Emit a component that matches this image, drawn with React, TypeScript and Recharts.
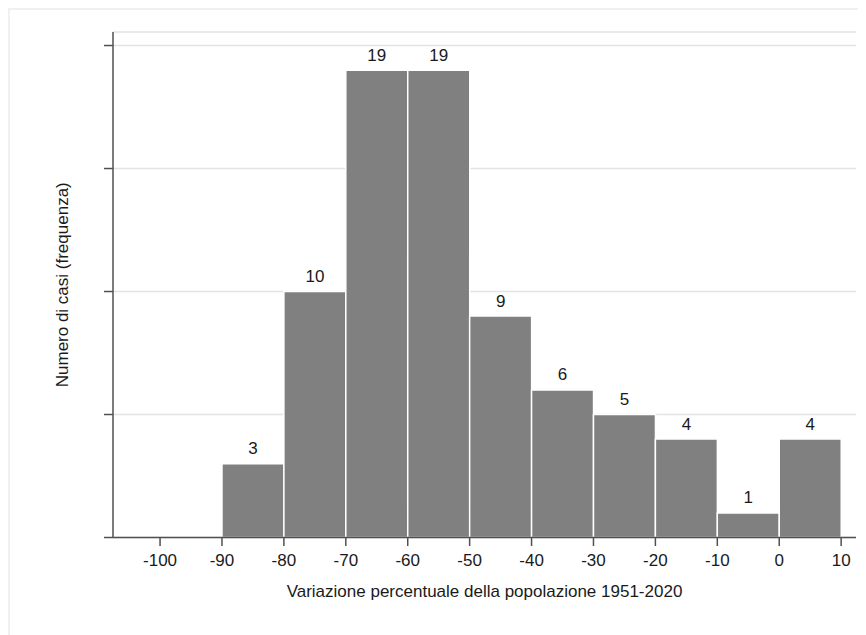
import { Bar, BarChart, CartesianGrid, LabelList, XAxis, YAxis } from 'recharts';

// bin starts (width 10) and counts
const binStarts = [-90, -80, -70, -60, -50, -40, -30, -20, -10, 0];
const counts = [3, 10, 19, 19, 9, 6, 5, 4, 1, 4];
const xTicks = [-100, -90, -80, -70, -60, -50, -40, -30, -20, -10, 0, 10];
const yTicks = [0, 5, 10, 15, 20];

const BIN = 10;
const X_MIN = -107.6;
const X_MAX = 12.4;
const Y_MAX = 20.55;

const WIDTH = 856;
const HEIGHT = 625;
const MARGIN = { top: 22, right: 10, left: 0, bottom: 0 };
const Y_AXIS_W = 103;
const X_AXIS_H = 97.5;

const FONT = '"Liberation Sans", Arial, Helvetica, sans-serif';
const FONT_SIZE = 17;
const AXIS = '#505050';
const TEXT = '#1a1a1a';

const data = binStarts.map((start, i) => ({ mid: start + BIN / 2, count: counts[i] }));

export default function App() {
  return (
    <div
      style={{
        width: 858,
        height: 627,
        boxSizing: 'border-box',
        borderTop: '2px solid #f0f0f0',
        borderLeft: '2px solid #f0f0f0',
        fontFamily: FONT,
      }}
    >
      <BarChart width={WIDTH} height={HEIGHT} data={data} margin={MARGIN} barGap={0} barCategoryGap={0}>
        <CartesianGrid horizontal vertical={false} stroke="#e3e3e3" strokeWidth={1.5} />
        <XAxis
          dataKey="mid"
          type="number"
          domain={[X_MIN, X_MAX]}
          ticks={xTicks}
          allowDataOverflow
          interval={0}
          height={X_AXIS_H}
          stroke={AXIS}
          strokeWidth={1.5}
          tickSize={8.5}
          tickMargin={8}
          tick={{ fill: TEXT, fontSize: FONT_SIZE, fontFamily: FONT }}
          label={{
            value: 'Variazione percentuale della popolazione 1951-2020',
            position: 'insideBottom',
            offset: 38,
            fill: TEXT,
            fontSize: FONT_SIZE,
            fontFamily: FONT,
          }}
        />
        <YAxis
          type="number"
          domain={[0, Y_MAX]}
          ticks={yTicks}
          allowDataOverflow
          interval={0}
          width={Y_AXIS_W}
          stroke={AXIS}
          strokeWidth={1.5}
          tickSize={9}
          tickFormatter={() => ''}
          label={{
            value: 'Numero di casi (frequenza)',
            angle: -90,
            position: 'center',
            fill: TEXT,
            fontSize: FONT_SIZE,
            fontFamily: FONT,
          }}
        />
        <Bar
          dataKey="count"
          fill="#808080"
          stroke="#ffffff"
          strokeWidth={1.5}
          isAnimationActive={false}
        >
          <LabelList
            dataKey="count"
            position="top"
            offset={9.5}
            fill={TEXT}
            fontSize={FONT_SIZE}
            fontFamily={FONT}
          />
        </Bar>
      </BarChart>
    </div>
  );
}
